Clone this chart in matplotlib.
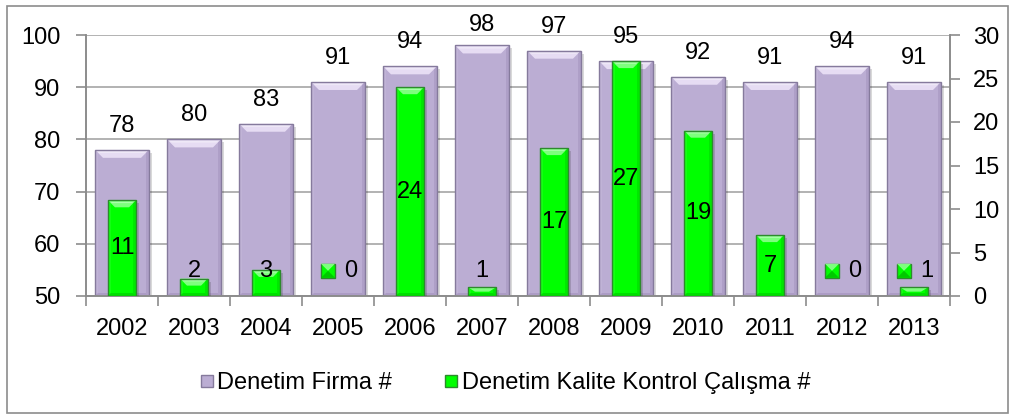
import matplotlib
matplotlib.use("Agg")
import matplotlib.pyplot as plt
import numpy as np
from matplotlib.patches import Polygon, Rectangle
from matplotlib.lines import Line2D

years = ["2002", "2003", "2004", "2005", "2006", "2007",
         "2008", "2009", "2010", "2011", "2012", "2013"]
firma = [78, 80, 83, 91, 94, 98, 97, 95, 92, 91, 94, 91]
kalite = [11, 2, 3, 0, 24, 1, 17, 27, 19, 7, 0, 1]
keyed_labels = ["2005", "2012", "2013"]   # labels drawn with a legend key

left_ticks = [50, 60, 70, 80, 90, 100]
right_ticks = [0, 5, 10, 15, 20, 25, 30]

FONT = "Liberation Sans"
plt.rcParams["font.family"] = [FONT, "DejaVu Sans"]
FS = 17

PURPLE = dict(face="#BBADD3", light="#E6DCF3", side_l="#C9BDDD",
              side_r="#A696C0", bottom="#A292BC", edge="#857A9C")
GREEN = dict(face="#00FF00", light="#7DFF7D", side_l="#33FF33",
             side_r="#00D800", bottom="#00C800", edge="#2D8A2D")
GRID = "#A6A6A6"
AXIS = "#8C8C8C"

W, H = 1010, 416
fig = plt.figure(figsize=(W / 100, H / 100), dpi=100)
L, R, B, T = 86, 950, 296, 35
ax = fig.add_axes([L / W, 1 - B / H, (R - L) / W, (B - T) / H])
ax2 = ax.twinx()

x = np.arange(len(years))
ax.set_xlim(-0.5, len(years) - 0.5)
ax.set_ylim(50, 100)
ax2.set_ylim(0, 30)

ax.set_yticks(left_ticks)
ax2.set_yticks(right_ticks)
ax.set_xticks(x)
ax.set_xticklabels(years)
ax.set_xticks(np.arange(-0.5, len(years), 1.0), minor=True)

ax.yaxis.grid(True, color=GRID, linewidth=1.2, zorder=0)
ax.set_axisbelow(True)

for a in (ax, ax2):
    for s in a.spines.values():
        s.set_color(AXIS)
        s.set_linewidth(1.2)
ax.spines["top"].set_visible(False)
ax2.spines["top"].set_visible(False)

ax.tick_params(axis="y", which="major", direction="out", length=7,
               color=AXIS, width=1.2, labelsize=FS, pad=11.5)
ax2.tick_params(axis="y", which="major", direction="out", length=7,
                color=AXIS, width=1.2, labelsize=FS, pad=9.5)
ax.tick_params(axis="x", which="major", length=0, labelsize=FS, pad=15.5)
ax.tick_params(axis="x", which="minor", direction="out", length=7,
               color=AXIS, width=1.2)
ax2.tick_params(axis="x", which="both", length=0)

fig.canvas.draw()


def to_px(a, xd, yd):
    return a.transData.transform((xd, yd))


def from_px(a, px, py):
    return a.transData.inverted().transform((px, py))


def bevel_bar(a, xc, width, v, style, bevel=8, z=2):
    y_lo = a.get_ylim()[0]
    if v <= y_lo:
        return
    x0, y0 = to_px(a, xc - width / 2, y_lo)
    x1, y1 = to_px(a, xc + width / 2, v)
    h = y1 - y0
    bv = min(bevel, h / 2.0)
    bx = min(bevel, (x1 - x0) / 2.0)

    def poly(pts, color, zz, **kw):
        data = [from_px(a, px, py) for px, py in pts]
        a.add_patch(Polygon(data, closed=True, facecolor=color,
                            edgecolor="none", zorder=zz, **kw))

    # soft drop shadow
    poly([(x0 + 3, y0 - 3), (x1 + 3, y0 - 3), (x1 + 3, y1 - 3), (x0 + 3, y1 - 3)],
         "#000000", z - 0.1, alpha=0.15)
    poly([(x0, y0), (x1, y0), (x1, y1), (x0, y1)], style["face"], z)
    # top highlight
    poly([(x0, y1), (x1, y1), (x1 - bx, y1 - bv), (x0 + bx, y1 - bv)],
         style["light"], z + 0.01)
    poly([(x0 + 2, y1 - 1.5), (x1 - 2, y1 - 1.5), (x1 - bx * 0.6, y1 - bv * 0.4),
          (x0 + bx * 0.6, y1 - bv * 0.4)], "#FFFFFF", z + 0.02, alpha=0.35)
    # sides
    poly([(x0, y1), (x0 + 3, y1 - 3), (x0 + 3, y0 + 3), (x0, y0)],
         style["side_l"], z + 0.01, alpha=0.4)
    poly([(x1, y1), (x1 - 3, y1 - 3), (x1 - 3, y0 + 3), (x1, y0)],
         style["side_r"], z + 0.01, alpha=0.6)
    # bottom
    poly([(x0, y0), (x1, y0), (x1 - 3, y0 + 3), (x0 + 3, y0 + 3)],
         style["bottom"], z + 0.01, alpha=0.6)
    # outline
    data = [from_px(a, px, py) for px, py in
            [(x0, y0), (x1, y0), (x1, y1), (x0, y1)]]
    a.add_patch(Polygon(data, closed=True, facecolor="none",
                        edgecolor=style["edge"], linewidth=1.0, zorder=z + 0.03))


PW, GW = 0.75, 0.39

for xi, v in zip(x, firma):
    bevel_bar(ax, xi, PW, v, PURPLE, bevel=8, z=2)

for xi, v in zip(x, kalite):
    bevel_bar(ax2, xi, GW, v, GREEN, bevel=7, z=3)

# value labels for the firm counts sit on the top axes so nothing covers them
fig.canvas.draw()
for xi, v in zip(x, firma):
    _, py = to_px(ax, xi, min(v + 4.6, 101.9))
    _, ly = from_px(ax2, 0, py)
    ax2.text(xi, ly, str(v), ha="center", va="center",
             fontsize=FS, color="#000000", zorder=9, clip_on=False)

for xi, (yr, v) in enumerate(zip(years, kalite)):
    ly = max(v / 2.0, 2.9)
    cx, cy = to_px(ax2, xi, ly)
    if yr in keyed_labels:
        s = 14
        sx = cx - 10
        pts = [from_px(ax2, sx - s / 2, cy - s / 2), from_px(ax2, sx + s / 2, cy + s / 2)]
        (ax0, ay0), (ax1, ay1) = pts
        ax2.add_patch(Rectangle((ax0, ay0), ax1 - ax0, ay1 - ay0,
                                facecolor=GREEN["face"], edgecolor=GREEN["edge"],
                                linewidth=1.0, zorder=7))
        ax2.add_patch(Polygon([from_px(ax2, sx - s / 2, cy + s / 2),
                               from_px(ax2, sx + s / 2, cy + s / 2),
                               from_px(ax2, sx, cy)], closed=True,
                              facecolor=GREEN["light"], edgecolor="none", zorder=7.1))
        ax2.add_patch(Polygon([from_px(ax2, sx - s / 2, cy - s / 2),
                               from_px(ax2, sx + s / 2, cy - s / 2),
                               from_px(ax2, sx, cy)], closed=True,
                              facecolor=GREEN["bottom"], edgecolor="none", zorder=7.1))
        tx, _ = from_px(ax2, cx + 6, cy)
        ax2.text(tx, ly, str(v), ha="left", va="center", fontsize=FS, zorder=8)
    else:
        ax2.text(xi, ly, str(v), ha="center", va="center", fontsize=FS, zorder=8)

handles = [
    Line2D([], [], linestyle="none", marker="s", markersize=8,
           markerfacecolor=PURPLE["face"], markeredgecolor=PURPLE["edge"]),
    Line2D([], [], linestyle="none", marker="s", markersize=8,
           markerfacecolor=GREEN["face"], markeredgecolor=GREEN["edge"]),
]
fig.legend(handles, ["Denetim Firma #", "Denetim Kalite Kontrol Çalışma #"],
           loc="center", bbox_to_anchor=(0.5, 1 - 383 / H), ncol=2,
           frameon=False, fontsize=FS, handlelength=0.6, handletextpad=0.15,
           columnspacing=2.2, borderpad=0)

fig.patches.append(Rectangle((7 / W, 1 - 413 / H), 1001 / W, 407 / H,
                             transform=fig.transFigure, facecolor="none",
                             edgecolor="#8C8C8C", linewidth=1.2, zorder=-1))

fig.savefig("out.png", dpi=100, facecolor="white")
